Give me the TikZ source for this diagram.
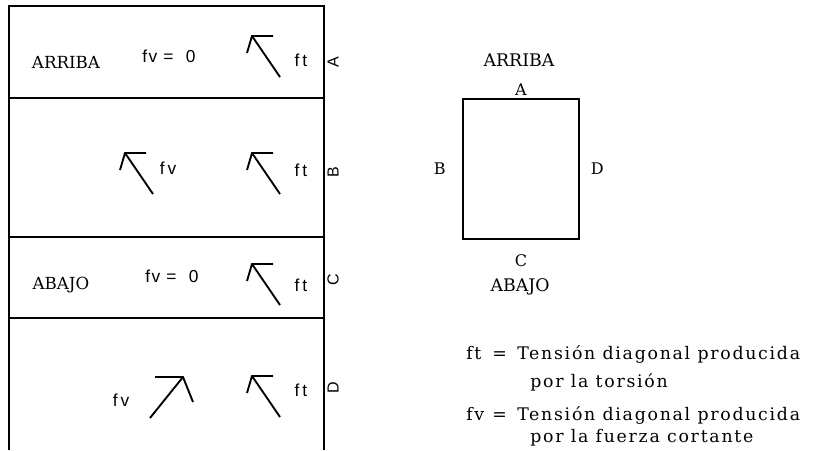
\documentclass[tikz,border=0pt]{standalone}
\usepackage{fontspec}
\setmainfont{DejaVu Serif}
\newfontfamily\plotfont[LetterSpace=8]{Liberation Sans}
\newfontfamily\legfont[LetterSpace=10]{DejaVu Serif}
\usetikzlibrary{positioning}

\tikzset{
  wall/.style={line width=1.5pt},
  word/.style={inner sep=0pt, font=\fontsize{12.5}{14}\selectfont},
  plot/.style={inner sep=0pt, font=\plotfont\fontsize{13}{15}\selectfont},
  side/.style={inner sep=0pt, rotate=90, font=\plotfont\fontsize{12}{14}\selectfont},
  seclabel/.style={inner sep=0pt, font=\fontsize{12}{14}\selectfont},
  leg/.style={inner sep=0pt, anchor=base west, font=\legfont\fontsize{13}{15}\selectfont},
  tarrow/.pic={\draw[line width=1.4pt] (-5,17) -- (0,0) -- (21,0) (0,0) -- (28,41);},
  varrow/.pic={\draw[line width=1.4pt] (10,25) -- (0,0) -- (-28,0) (0,0) -- (-33,41);}
}

\begin{document}
\begin{tikzpicture}[x=0.75pt, y=-0.75pt]
  \useasboundingbox (0,0) rectangle (835,450);

  % cut of the beam, face by face
  \draw[wall] (9,450) -- (9,6) -- (324,6) -- (324,450);
  \draw[wall] (9,98) -- (324,98);
  \draw[wall] (9,237) -- (324,237);
  \draw[wall] (9,318) -- (324,318);

  % face A
  \node[word] (arrA) at (66,62) {ARRIBA};
  \node[plot] (fvA) at (169,56) {fv =\ \ 0};
  \pic at (252,36) {tarrow};
  \node[plot] (ftA) at (301,60) {f\,t};
  \node[side] (sA) at (333,62) {A};

  % face B
  \pic at (125,153) {tarrow};
  \node[plot] (fvB) at (168,168) {f\,v};
  \pic at (252,153) {tarrow};
  \node[plot] (ftB) at (301,170) {f\,t};
  \node[side] (sB) at (333,172) {B};

  % face C
  \node[word] (abaC) at (61,285) {ABAJO};
  \node[plot] (fvC) at (172,276) {fv =\ \ 0};
  \pic at (252,264) {tarrow};
  \node[plot] (ftC) at (301,285) {f\,t};
  \node[side] (sC) at (333,280) {C};

  % face D
  \node[plot] (fvD) at (121,400) {f\,v};
  \pic at (183,377) {varrow};
  \pic at (252,376) {tarrow};
  \node[plot] (ftD) at (301,390) {f\,t};
  \node[side] (sD) at (333,388) {D};

  % section
  \node[draw, wall, minimum width=87pt, minimum height=105pt, inner sep=0pt] (sec) at (521,169) {};
  \node[seclabel, above=2pt of sec] (lA) {A};
  \node[seclabel, below=11pt of sec] (lC) {C};
  \node[seclabel, left=12pt of sec] (lB) {B};
  \node[seclabel, right=8pt of sec] (lD) {D};
  \node[inner sep=0pt, font=\fontsize{13}{15}\selectfont] (arrS) at (519,60) {ARRIBA};
  \node[inner sep=0pt, font=\fontsize{13}{15}\selectfont] (abaS) at (520,287) {ABAJO};

  % legend
  \node[leg] (ftL) at (466,359) {ft};
  \node[leg] (eqT) at (492,359) {=};
  \node[leg] (tT1) at (517,359) {Tensión diagonal producida};
  \node[leg] (tT2) at (530,387) {por la torsión};
  \node[leg] (fvL) at (466,420) {fv};
  \node[leg] (eqV) at (492,420) {=};
  \node[leg] (tV1) at (517,420) {Tensión diagonal producida};
  \node[leg] (tV2) at (530,442) {por la fuerza cortante};
\end{tikzpicture}
\end{document}
